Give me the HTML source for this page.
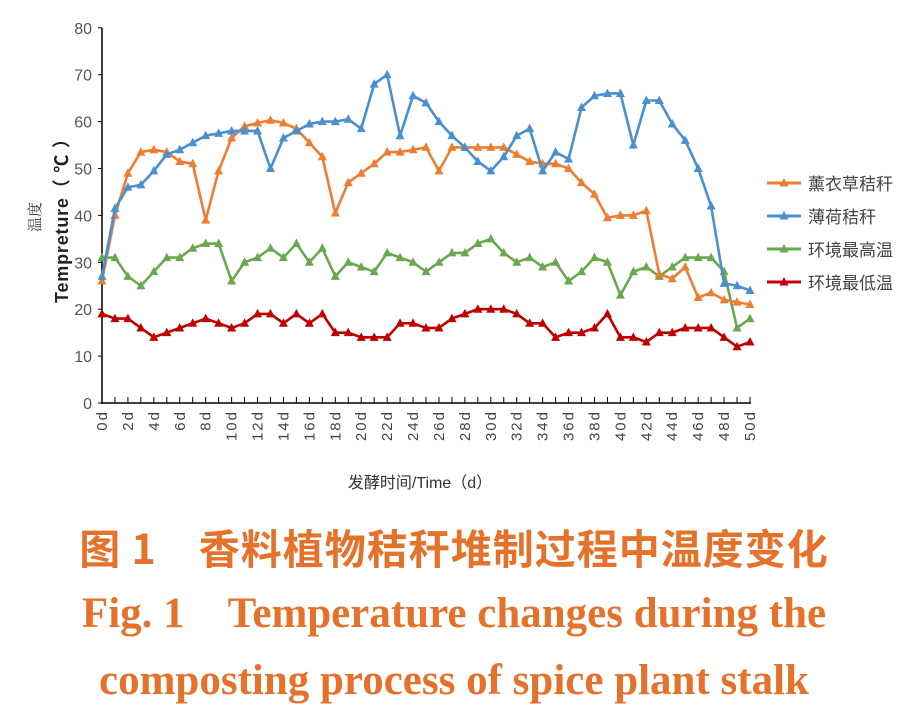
<!DOCTYPE html>
<html><head><meta charset="utf-8"><style>
body{margin:0;background:#fff;width:908px;height:707px;overflow:hidden;position:relative}
.cap{position:absolute;left:0;width:908px;text-align:center;color:#e5722a;font-family:"Liberation Serif","Noto Serif CJK SC",serif;font-weight:bold;white-space:pre}
</style></head><body>
<svg id="c" width="908" height="500" style="position:absolute;left:0;top:0" font-family="'Liberation Sans','Noto Sans CJK SC',sans-serif"></svg>
<div class="cap" style="top:516px;font-size:41px;font-family:'Noto Sans CJK SC',sans-serif;font-weight:bold;letter-spacing:1px">图 1　香料植物秸秆堆制过程中温度变化</div>
<div class="cap" style="top:579px;font-size:43px">Fig. 1　Temperature changes during the</div>
<div class="cap" style="top:656px;font-size:43px">composting process of spice plant stalk</div>
<script>
const O=[26,40,49,53.5,54,53.5,51.5,51,39,49.5,56.5,59,59.7,60.3,59.7,58.5,55.5,52.5,40.5,47,49,51,53.5,53.5,54,54.5,49.5,54.5,54.5,54.5,54.5,54.5,53,51.5,51,51,50,47,44.5,39.5,40,40,41,27.5,26.5,29,22.5,23.5,22,21.5,21];
const B=[27,41.5,46,46.5,49.5,53,54,55.5,57,57.5,58,58,58,50,56.5,58,59.5,60,60,60.5,58.5,68,70,57,65.5,64,60,57,54.5,51.5,49.5,52.5,57,58.5,49.5,53.5,52,63,65.5,66,66,55,64.5,64.5,59.5,56,50,42,25.5,25,24];
const G=[31,31,27,25,28,31,31,33,34,34,26,30,31,33,31,34,30,33,27,30,29,28,32,31,30,28,30,32,32,34,35,32,30,31,29,30,26,28,31,30,23,28,29,27,29,31,31,31,28,16,18];
const R=[19,18,18,16,14,15,16,17,18,17,16,17,19,19,17,19,17,19,15,15,14,14,14,17,17,16,16,18,19,20,20,20,19,17,17,14,15,15,16,19,14,14,13,15,15,16,16,16,14,12,13];
const X=d=>102+d*12.96, Y=v=>403-v*4.69;
let s='';
s+='<line x1="102" y1="28" x2="102" y2="404" stroke="#000" stroke-width="1.5"/><line x1="101" y1="403" x2="751" y2="403" stroke="#000" stroke-width="1.5"/>';
for(let v=0;v<=80;v+=10){s+=`<line x1="98" y1="${Y(v)}" x2="102" y2="${Y(v)}" stroke="#000"/><text x="92" y="${Y(v)+6}" font-size="16" text-anchor="end" fill="#555">${v}</text>`;}
for(let d=0;d<=50;d++){s+=`<line x1="${X(d)}" y1="397" x2="${X(d)}" y2="403" stroke="#000"/>`;
 if(d%2==0)s+=`<text transform="translate(${X(d)+5},${410}) rotate(-90)" font-size="15" text-anchor="end" fill="#444" letter-spacing="2">${d}d</text>`;}
function ser(a,c){let p=a.map((v,i)=>X(i)+','+Y(v)).join(' ');let r=`<polyline points="${p}" fill="none" stroke="${c}" stroke-width="2.6"/>`;
 a.forEach((v,i)=>{let x=X(i),y=Y(v);r+=`<polygon points="${x},${y-5} ${x-4.5},${y+3.5} ${x+4.5},${y+3.5}" fill="${c}"/>`});return r;}
s+=ser(G,'#6aa84f')+ser(R,'#c00000')+ser(O,'#ee7d31')+ser(B,'#4a8fd0');
const L=[['薰衣草秸秆','#ee7d31'],['薄荷秸秆','#4a8fd0'],['环境最高温','#6aa84f'],['环境最低温','#c00000']];
L.forEach((l,i)=>{let y=183+i*33;s+=`<line x1="767" y1="${y}" x2="801" y2="${y}" stroke="${l[1]}" stroke-width="3"/><polygon points="784,${y-5} 779.5,${y+3.5} 788.5,${y+3.5}" fill="${l[1]}"/><text x="808" y="${y+7}" font-size="17" fill="#444">${l[0]}</text>`});
s+=`<text x="420" y="488" font-size="16" text-anchor="middle" fill="#333">发酵时间/Time（d）</text>`;
s+=`<text transform="translate(40,217) rotate(-90)" font-size="15" text-anchor="middle" fill="#333" font-family="'Noto Serif CJK SC',serif">温度</text>`;
s+=`<text transform="translate(68,303) rotate(-90)" font-size="18" fill="#222" font-weight="bold" textLength="173" lengthAdjust="spacing">Tempreture（ ℃ ）</text>`;
document.getElementById('c').innerHTML=s;
</script>
</body></html>
